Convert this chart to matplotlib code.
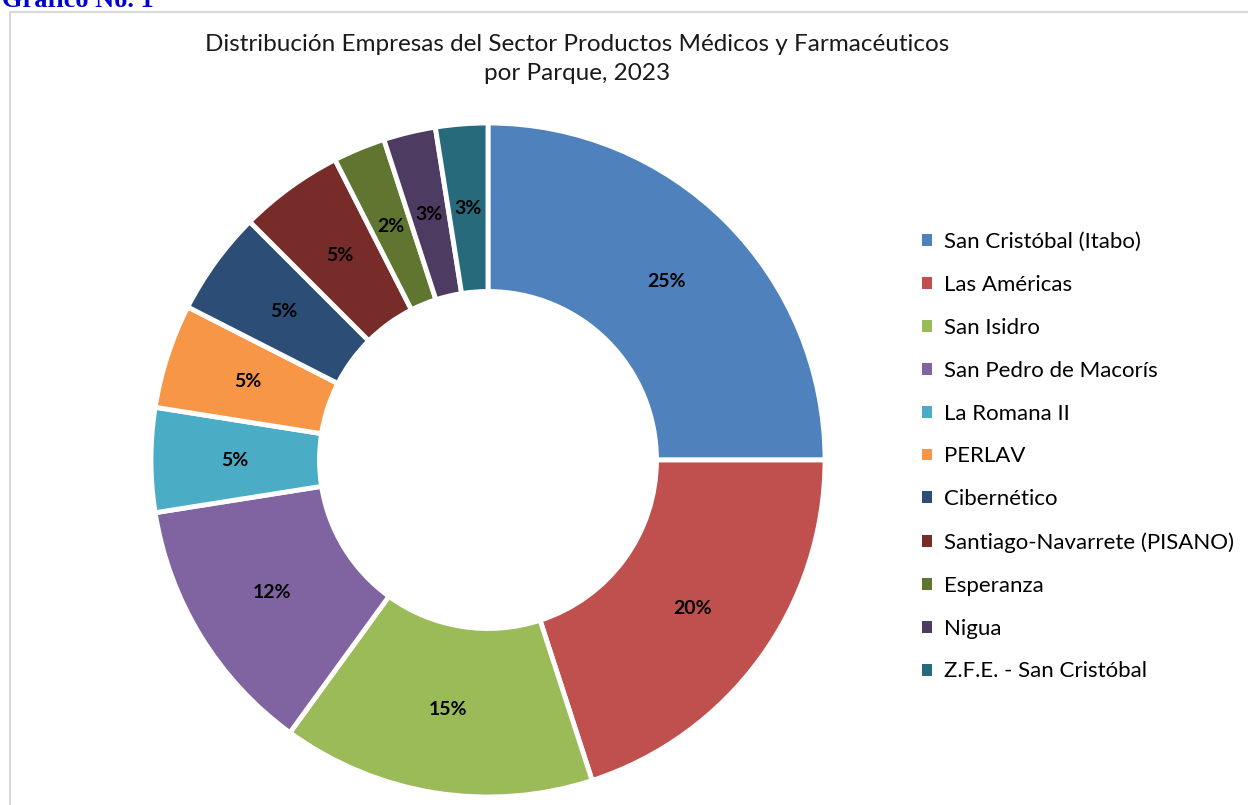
import matplotlib
matplotlib.use("Agg")
import matplotlib.pyplot as plt
from matplotlib.patches import Rectangle
import numpy as np

categories = ["San Cristóbal (Itabo)", "Las Américas", "San Isidro", "San Pedro de Macorís",
              "La Romana II", "PERLAV", "Cibernético", "Santiago-Navarrete (PISANO)",
              "Esperanza", "Nigua", "Z.F.E. - San Cristóbal"]
companies = [10, 8, 6, 5, 2, 2, 2, 2, 1, 1, 1]
pct_labels = ["25%", "20%", "15%", "12%", "5%", "5%", "5%", "5%", "2%", "3%", "3%"]
colors = ["#4F81BD", "#C0504D", "#9BBB59", "#8064A2", "#4BACC6", "#F79646",
          "#2C4D75", "#772C2A", "#5F7530", "#4D3B62", "#276A7C"]
title = "Distribución Empresas del Sector Productos Médicos y Farmacéuticos\npor Parque, 2023"

W, H = 1248, 805
fig = plt.figure(figsize=(W / 100, H / 100), dpi=100)
fig.patch.set_facecolor("white")

# chart border
fig.patches.append(Rectangle((10 / W, -0.1), 1.2, 1 - 12 / H + 0.1, transform=fig.transFigure,
                             fill=False, edgecolor="#D9D9D9", linewidth=1.5))

fig.text(2 / W, 1 - 7 / H, "Gráfico No. 1", family="Liberation Serif", weight="bold",
         color="#0000CC", fontsize=19, ha="left", va="baseline")

cx, cy, R = 488, 460, 337
ax = fig.add_axes([(cx - R) / W, (H - cy - R) / H, 2 * R / W, 2 * R / H])
wedges, _ = ax.pie(companies, colors=colors, startangle=90, counterclock=False,
                   radius=1, wedgeprops=dict(width=0.5, edgecolor="white", linewidth=3.5))
for w in wedges:
    w.set_clip_on(False)
theta = 90.0
total = sum(companies)
for v, lab in zip(companies, pct_labels):
    ang = theta - v / total * 360 / 2
    theta -= v / total * 360
    r = 0.75
    ax.text(r * np.cos(np.radians(ang)), r * np.sin(np.radians(ang)), lab,
            ha="center", va="center", fontsize=14, weight="bold", family="Lato", color="black")
ax.set_xlim(-1, 1)
ax.set_ylim(-1, 1)
ax.set_aspect("equal")
ax.axis("off")

fig.text(577 / W, 1 - 59 / H, title, ha="center", va="center", fontsize=17.5,
         family="Lato", color="#1a1a1a", linespacing=1.45)

leg = fig.legend(wedges, categories, loc="upper left", bbox_to_anchor=(902 / W, 1 - 212 / H),
                 frameon=False, prop=dict(family="Lato", size=16), handlelength=0.45,
                 handleheight=0.45, handletextpad=0.55, labelspacing=1.03)
for h in leg.legend_handles:
    h.set_linewidth(0)

fig.savefig("out.png", dpi=100)
